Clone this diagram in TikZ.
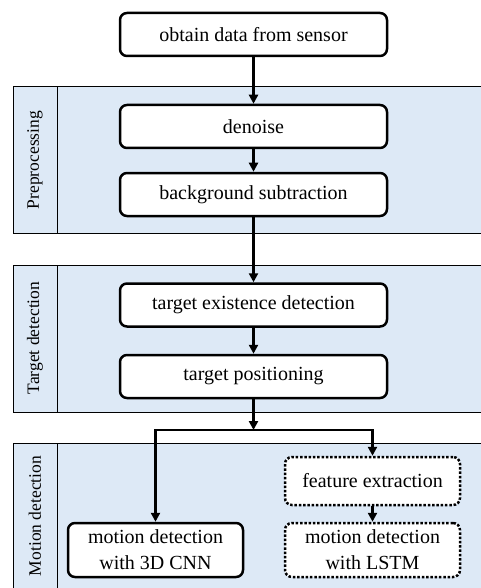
\documentclass[tikz,border=0pt]{standalone}
\usepackage{fontspec}
\setmainfont{Liberation Serif}
\usepackage{tikz}
\usetikzlibrary{positioning,arrows.meta}
\definecolor{panelblue}{RGB}{221,233,246}
\tikzstyle{process} = [rectangle, rounded corners=7pt, minimum width=267pt, minimum height=43pt, text centered, draw=black, line width=2.5pt, fill=white, font=\fontsize{20}{26}\selectfont]
\tikzstyle{method} = [process, minimum width=175pt, minimum height=54pt, align=center]
\tikzstyle{trial} = [method, dash pattern=on 2.5pt off 1.8pt]
\tikzstyle{panel} = [draw=black, line width=1pt, fill=panelblue]
\tikzstyle{stage} = [rotate=90, font=\fontsize{17.5}{20}\selectfont]
\tikzstyle{arrow} = [line width=2.5pt,-{Triangle[length=9pt,width=9pt]}]

\begin{document}
\begin{tikzpicture}
 \useasboundingbox (0,0) rectangle (481pt,-588pt);
% panels
 \filldraw[panel] (13pt,-87pt) rectangle (486pt,-233pt);
 \draw[line width=1pt] (57pt,-87pt) -- (57pt,-233pt);
 \filldraw[panel] (13pt,-265pt) rectangle (486pt,-412pt);
 \draw[line width=1pt] (57pt,-265pt) -- (57pt,-412pt);
 \filldraw[panel] (13pt,-443pt) rectangle (486pt,-593pt);
 \draw[line width=1pt] (57pt,-443pt) -- (57pt,-593pt);
 \node[stage] (lblpre) at (35pt,-160pt) {Preprocessing};
 \node[stage] (lbltarget) at (35pt,-338pt) {Target detection};
 \node[stage] (lblmotion) at (35pt,-516pt) {Motion detection};
% steps
 \node[process] (sensor) at (253.5pt,-34.5pt)
              {obtain data from sensor};
 \node[process] (denoise) at (sensor) [yshift=-92pt]
              {denoise};
 \node[process] (bgsub) at (denoise) [yshift=-68pt]
              {background subtraction};
 \node[process] (exist) at (bgsub) [yshift=-110.5pt]
              {target existence detection};
 \node[process] (position) at (exist) [yshift=-71.5pt]
              {target positioning};
 \coordinate (split) at ([yshift=-53.5pt]position.center);
 \node[method] (cnn) at (position) [xshift=-98pt,yshift=-173.5pt]
              {motion detection\\with 3D CNN};
 \node[trial, minimum height=48pt] (feature) at (position) [xshift=119pt,yshift=-104.5pt]
              {feature extraction};
 \node[trial] (lstm) at (feature) [yshift=-69pt]
              {motion detection\\with LSTM};
% arrows
 \draw[arrow] (sensor) -- (denoise);
 \draw[arrow] (denoise) -- (bgsub);
 \draw[arrow] (bgsub) -- (exist);
 \draw[arrow] (exist) -- (position);
 \draw[arrow] (position) -- (split);
 \draw[arrow] (split) -| (cnn.north);
 \draw[arrow] (split) -| (feature.north);
 \draw[arrow] (feature) -- (lstm);
\end{tikzpicture}
\end{document}
